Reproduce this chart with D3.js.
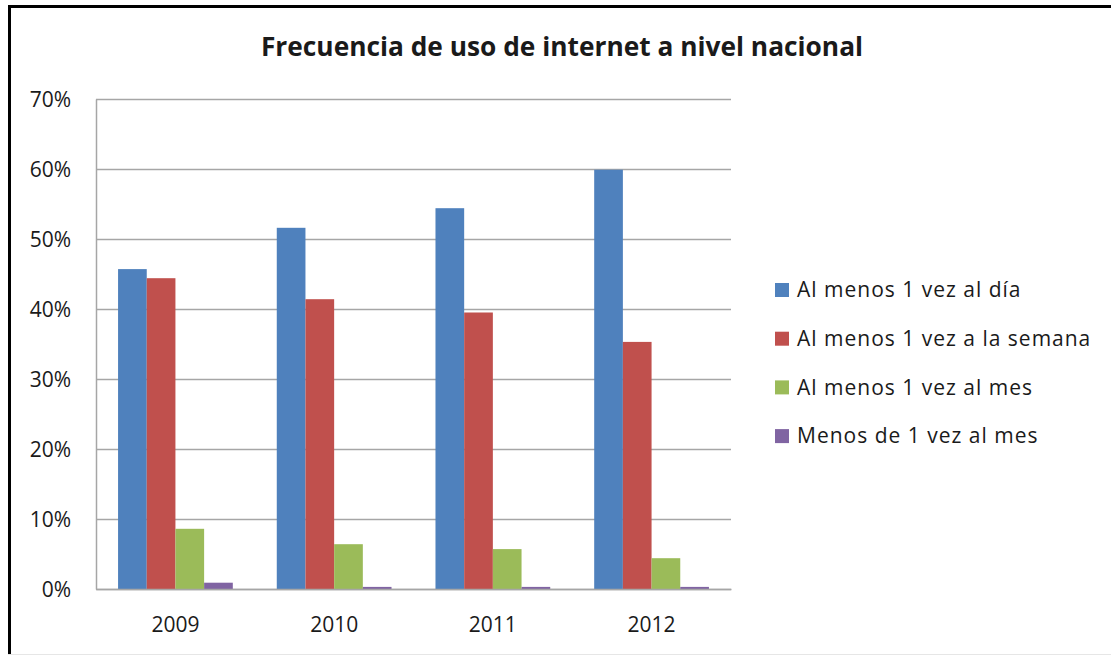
<!DOCTYPE html>
<html>
<head>
<meta charset="utf-8">
<title>Frecuencia de uso de internet</title>
<script src="https://d3js.org/d3.v7.min.js"></script>
<style>
  body { margin: 0; background: #fff; }
  svg text { font-family: "Open Sans", Lato, sans-serif; fill: #1a1a1a; }
</style>
</head>
<body>
<div id="chart"></div>
<script>
// data
var years = ["2009", "2010", "2011", "2012"];
var seriesNames = ["Al menos 1 vez al día", "Al menos 1 vez a la semana", "Al menos 1 vez al mes", "Menos de 1 vez al mes"];
var diario = [0.457, 0.516, 0.544, 0.599];
var semanal = [0.444, 0.414, 0.395, 0.353];
var mensual = [0.086, 0.064, 0.057, 0.044];
var menos = [0.009, 0.003, 0.003, 0.003];
var yTicks = [0, 0.1, 0.2, 0.3, 0.4, 0.5, 0.6, 0.7];
var colors = ["#4f81bd", "#c0504d", "#9bbb59", "#8064a2"];

var allSeries = [diario, semanal, mensual, menos];

var W = 1111, H = 656;
var margin = {top: 99, left: 96, right: 380, bottom: 67};
var width = W - margin.left - margin.right,
    height = H - margin.top - margin.bottom;

var svg = d3.select("#chart").append("svg")
    .attr("width", W).attr("height", H);

// outer frame (black on top and left, light grey at bottom)
svg.append("line").attr("x1", 9.5).attr("x2", W).attr("y1", 6.5).attr("y2", 6.5)
    .attr("stroke", "#000").attr("stroke-width", 3);
svg.append("line").attr("x1", 9.5).attr("x2", 9.5).attr("y1", 5).attr("y2", 654)
    .attr("stroke", "#000").attr("stroke-width", 3);
svg.append("line").attr("x1", 8).attr("x2", W).attr("y1", 654.5).attr("y2", 654.5)
    .attr("stroke", "#e6e6e6").attr("stroke-width", 1);

var g = svg.append("g").attr("transform", "translate(" + margin.left + "," + margin.top + ")");

var x0 = d3.scaleBand().domain(years).range([0, width]).paddingInner(0.277).paddingOuter(0.139);
var x1 = d3.scaleBand().domain(d3.range(seriesNames.length)).range([0, x0.bandwidth()]);
var y = d3.scaleLinear().domain([0, 0.7]).range([height, 0]);

// gridlines
g.append("g").selectAll("line").data(yTicks).enter().append("line")
    .attr("x1", 0).attr("x2", width)
    .attr("y1", function(d) { return Math.round(y(d)) + 0.5; })
    .attr("y2", function(d) { return Math.round(y(d)) + 0.5; })
    .attr("stroke", "#a6a6a6").attr("stroke-width", 1.5);

// y axis
var yAxis = g.append("g")
    .call(d3.axisLeft(y).tickValues(yTicks).tickFormat(d3.format(".0%")).tickSize(0).tickPadding(25));
yAxis.select(".domain").attr("stroke", "#a6a6a6").attr("stroke-width", 1.5);
yAxis.selectAll("text").attr("font-size", "21px").attr("dy", "0.35em");

// bars
var groups = g.selectAll(".year").data(years).enter().append("g")
    .attr("transform", function(d) { return "translate(" + x0(d) + ",0)"; });

groups.selectAll("rect")
    .data(function(d, i) { return allSeries.map(function(s, k) { return {k: k, v: s[i]}; }); })
    .enter().append("rect")
    .attr("x", function(d) { return x1(d.k); })
    .attr("width", x1.bandwidth())
    .attr("y", function(d) { return y(d.v); })
    .attr("height", function(d) { return height - y(d.v); })
    .attr("fill", function(d) { return colors[d.k]; });

// x axis
var xAxis = g.append("g").attr("transform", "translate(0," + height + ")")
    .call(d3.axisBottom(x0).tickSize(0).tickPadding(28));
xAxis.select(".domain").attr("stroke", "#a6a6a6").attr("stroke-width", 1.5);
xAxis.selectAll("text").attr("font-size", "21px");

// title
svg.append("text")
    .attr("x", 562).attr("y", 56)
    .attr("text-anchor", "middle")
    .attr("font-size", "26.3px").attr("font-weight", "bold")
    .text("Frecuencia de uso de internet a nivel nacional");

// legend
var legend = svg.append("g").attr("transform", "translate(775,290)");
var item = legend.selectAll("g").data(seriesNames).enter().append("g")
    .attr("transform", function(d, i) { return "translate(0," + (i * 48.7) + ")"; });
item.append("rect").attr("x", 0).attr("y", -7).attr("width", 14).attr("height", 14)
    .attr("fill", function(d, i) { return colors[i]; });
item.append("text").attr("x", 22).attr("y", 0).attr("dy", "0.35em")
    .attr("font-size", "21px").attr("letter-spacing", "1px")
    .text(function(d) { return d; });
</script>
</body>
</html>
